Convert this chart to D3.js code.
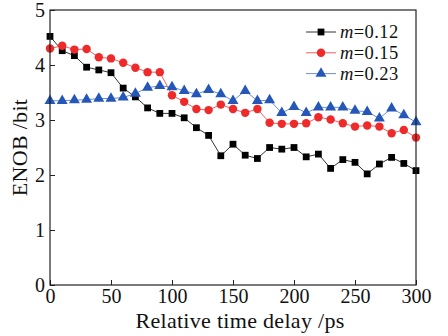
<!DOCTYPE html>
<html>
<head>
<meta charset="utf-8">
<script src="https://cdn.jsdelivr.net/npm/d3@7"></script>
<style>
  body { margin: 0; background: #fff; }
</style>
</head>
<body>
<div id="chart"></div>
<script>
const delays = d3.range(0, 301, 10);
const xTicks = [0, 50, 100, 150, 200, 250, 300];
const yTicks = [0, 1, 2, 3, 4, 5];

const enobM012 = [4.52, 4.26, 4.17, 3.96, 3.91, 3.86, 3.58, 3.42, 3.22, 3.12, 3.12, 3.04, 2.86, 2.72, 2.35, 2.56,
  2.36, 2.30, 2.50, 2.47, 2.50, 2.33, 2.38, 2.12, 2.28, 2.23, 2.02, 2.20, 2.32, 2.21, 2.08];
const enobM015 = [4.30, 4.35, 4.28, 4.29, 4.14, 4.12, 4.04, 3.95, 3.87, 3.87, 3.45, 3.33, 3.20, 3.18, 3.28, 3.20,
  3.13, 3.20, 2.95, 2.93, 2.93, 2.94, 3.05, 3.01, 2.94, 2.88, 2.90, 2.88, 2.76, 2.82, 2.68];
const enobM023 = [3.35, 3.35, 3.36, 3.37, 3.39, 3.39, 3.41, 3.48, 3.59, 3.62, 3.60, 3.53, 3.47, 3.55, 3.47, 3.35,
  3.53, 3.35, 3.36, 3.13, 3.24, 3.13, 3.23, 3.23, 3.23, 3.17, 3.15, 3.03, 3.21, 3.09, 2.96];

const seriesNames = ["0.12", "0.15", "0.23"];

const series = [
  { name: seriesNames[0], values: enobM012, line: "#333", fill: "#000", symbol: d3.symbolSquare, size: 46 },
  { name: seriesNames[1], values: enobM015, line: "#f06060", fill: "#ee2a2a", symbol: d3.symbolCircle, size: 56 },
  { name: seriesNames[2], values: enobM023, line: "#6a8fd8", fill: "#2457b8", symbol: d3.symbolTriangle, size: 52 }
];

const FONT = '"Liberation Serif", "Times New Roman", serif';

const width = 448, height = 336;
const margin = { left: 50, right: 32, top: 10, bottom: 51 };
const w = width - margin.left - margin.right;
const h = height - margin.top - margin.bottom;

const svg = d3.select("#chart").append("svg")
  .attr("width", width).attr("height", height);

const chart = svg.append("g")
  .attr("transform", `translate(${margin.left},${margin.top})`);

const x = d3.scaleLinear().domain([0, 300]).range([0, w]);
const y = d3.scaleLinear().domain([0, 5]).range([h, 0]);

// series lines + markers
series.forEach(s => {
  const pts = delays.map((t, i) => [t, s.values[i]]);
  chart.append("path")
    .attr("d", d3.line().x(d => x(d[0])).y(d => y(d[1]))(pts))
    .style("fill", "none")
    .style("stroke", s.line)
    .style("stroke-width", 1);
  chart.append("g").selectAll("path")
    .data(pts)
    .join("path")
    .attr("transform", d => `translate(${x(d[0])},${y(d[1])})`)
    .attr("d", d3.symbol().type(s.symbol).size(s.size))
    .attr("fill", s.fill);
});

// axes, ticks pointing inward
chart.append("g")
  .attr("class", "x-axis")
  .attr("transform", `translate(0,${h})`)
  .call(d3.axisBottom(x).tickValues(xTicks).tickFormat(d3.format("d"))
    .tickSizeInner(-5).tickSizeOuter(0).tickPadding(4))
  .call(g => g.selectAll("text").attr("dy", "0.71em"));

chart.append("g")
  .attr("class", "y-axis")
  .call(d3.axisLeft(y).tickValues(yTicks).tickFormat(d3.format("d"))
    .tickSizeInner(-5).tickSizeOuter(0).tickPadding(5));

chart.selectAll(".domain").remove();
chart.selectAll(".tick line").style("stroke", "#222");

chart.append("rect")
  .attr("width", w).attr("height", h)
  .style("fill", "none").style("stroke", "#222").style("stroke-width", 1.2);

// axis titles
svg.append("text")
  .attr("class", "title")
  .attr("x", margin.left + w / 2 + 7)
  .attr("y", height - 8)
  .attr("text-anchor", "middle")
  .text("Relative time delay /ps");

svg.append("text")
  .attr("class", "title")
  .attr("transform", `translate(19,${margin.top + h / 2}) rotate(-90)`)
  .attr("text-anchor", "middle")
  .attr("dy", "0.35em")
  .text("ENOB /bit");

// legend
const legend = chart.append("g")
  .attr("transform", `translate(${w - 110},22)`);

series.forEach((s, i) => {
  const row = legend.append("g").attr("transform", `translate(0,${i * 20.8})`);
  row.append("line")
    .attr("x1", 0).attr("x2", 30)
    .style("stroke", s.line).style("stroke-width", 1);
  row.append("path")
    .attr("transform", "translate(15,0)")
    .attr("d", d3.symbol().type(s.symbol).size(s.size))
    .attr("fill", s.fill);
  const t = row.append("text")
    .attr("class", "legend-label")
    .attr("x", 34).attr("y", 0).attr("dy", "0.35em");
  t.append("tspan").style("font-style", "italic").text("m");
  t.append("tspan").text("=" + s.name);
});

svg.selectAll("g").attr("font-family", null).attr("font-size", null);
svg.selectAll("text")
  .style("font-family", FONT)
  .style("font-size", "20px")
  .style("fill", "#111");
svg.selectAll("text.title").style("font-size", "22px").style("letter-spacing", "0.3px");
svg.selectAll("text.legend-label").style("font-size", "18.5px").style("letter-spacing", "0.4px");
svg.selectAll("tspan").style("font-family", FONT);
</script>
</body>
</html>
